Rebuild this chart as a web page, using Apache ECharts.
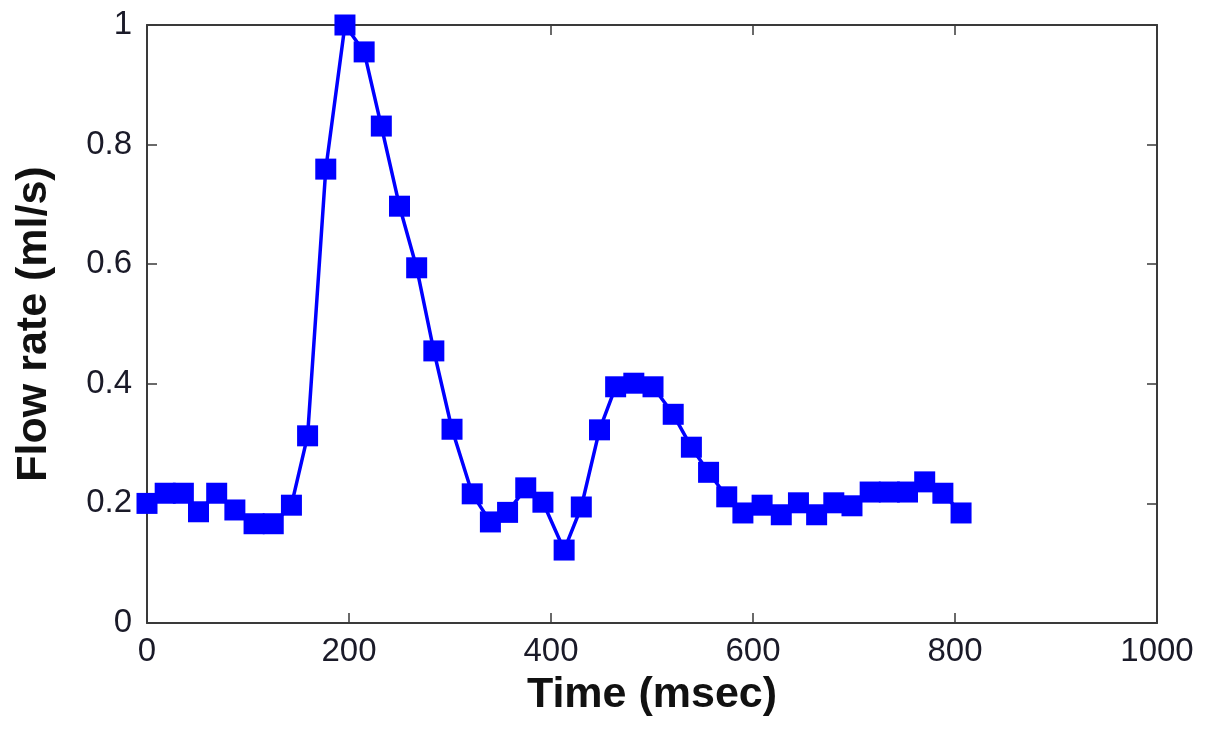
<!DOCTYPE html>
<html>
<head>
<meta charset="utf-8">
<script src="https://cdn.jsdelivr.net/npm/echarts@6/dist/echarts.min.js"></script>
<style>
html,body{margin:0;padding:0;background:#fff;}
#chart{width:1206px;height:730px;}
</style>
</head>
<body>
<div id="chart"></div>
<script>
// Time (msec) of each sample
var timesMs = [0, 18, 36, 51, 69, 87, 106, 125, 143, 159, 177, 196, 215, 232, 250, 267, 284, 302, 322, 340, 357, 375, 392, 413, 430, 448, 464, 482, 501, 521, 539, 556, 574, 590, 609, 628, 645, 663, 680, 698, 716, 735, 753, 770, 788, 806];
// Flow rate (ml/s)
var flowRate = [0.200, 0.217, 0.217, 0.186, 0.217, 0.189, 0.166, 0.166, 0.197, 0.313, 0.759, 1.000, 0.955, 0.831, 0.697, 0.594, 0.455, 0.324, 0.216, 0.169, 0.185, 0.226, 0.202, 0.122, 0.194, 0.323, 0.395, 0.401, 0.395, 0.349, 0.294, 0.252, 0.211, 0.184, 0.197, 0.181, 0.201, 0.181, 0.201, 0.196, 0.219, 0.219, 0.219, 0.236, 0.217, 0.184];
var xTicks = [0, 200, 400, 600, 800, 1000];
var yTicks = [0, 0.2, 0.4, 0.6, 0.8, 1];
var xTitle = 'Time (msec)';
var yTitle = 'Flow rate (ml/s)';

var pts = timesMs.map(function (t, i) { return [t, flowRate[i]]; });
var font = '"Liberation Sans", Arial, sans-serif';
var frame = {show: true, onZero: false, lineStyle: {color: '#3a3a3a', width: 2}};
var tick = {show: true, inside: true, length: 10, lineStyle: {color: '#3a3a3a', width: 1.5}};
function fmt(v) { return String(v); }

var chart = echarts.init(document.getElementById('chart'));
chart.setOption({
  animation: false,
  backgroundColor: '#fff',
  grid: {left: 147, right: 49, top: 25, bottom: 107},
  xAxis: [{
    type: 'value', position: 'bottom', min: xTicks[0], max: xTicks[xTicks.length - 1], interval: 200,
    axisLine: frame, axisTick: tick, splitLine: {show: false},
    axisLabel: {margin: 12, fontSize: 33, color: '#1a1a28', fontFamily: font, formatter: fmt},
    name: xTitle, nameLocation: 'middle', nameGap: 51,
    nameTextStyle: {fontSize: 43, fontWeight: 'bold', color: '#111', fontFamily: font}
  }, {
    type: 'value', position: 'top', min: xTicks[0], max: xTicks[xTicks.length - 1], interval: 200,
    axisLine: frame, axisTick: tick, axisLabel: {show: false}, splitLine: {show: false}
  }],
  yAxis: [{
    type: 'value', position: 'left', min: yTicks[0], max: yTicks[yTicks.length - 1], interval: 0.2,
    axisLine: frame, axisTick: tick, splitLine: {show: false},
    axisLabel: {margin: 15, fontSize: 33, color: '#1a1a28', fontFamily: font, formatter: fmt},
    name: yTitle, nameLocation: 'middle', nameGap: 91,
    nameTextStyle: {fontSize: 43, fontWeight: 'bold', color: '#111', fontFamily: font}
  }, {
    type: 'value', position: 'right', min: yTicks[0], max: yTicks[yTicks.length - 1], interval: 0.2,
    axisLine: frame, axisTick: tick, axisLabel: {show: false}, splitLine: {show: false}
  }],
  series: [{
    type: 'line', data: pts, xAxisIndex: 0, yAxisIndex: 0,
    symbol: 'rect', symbolSize: 21, clip: false,
    itemStyle: {color: '#0000ff'},
    lineStyle: {color: '#0000ff', width: 3.5}
  }]
});
</script>
</body>
</html>
